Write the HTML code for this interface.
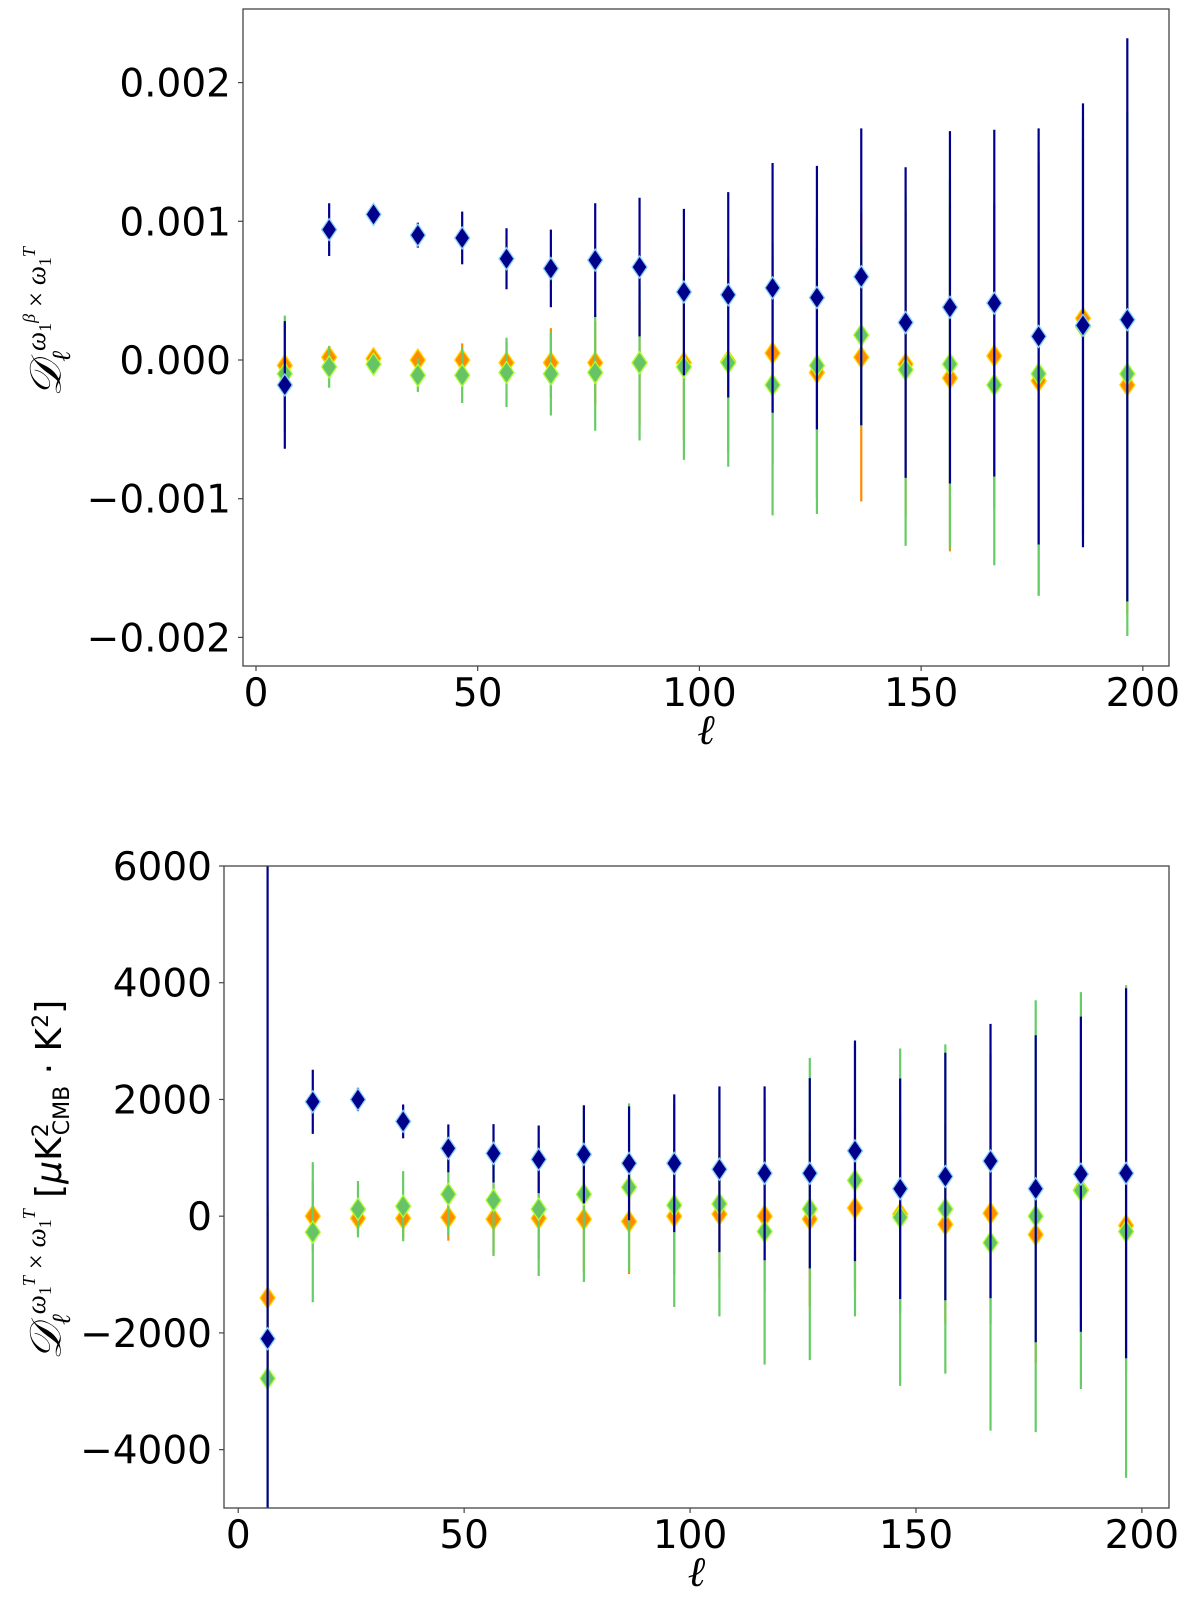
<!DOCTYPE html>
<html><head><meta charset="utf-8"><style>
html,body{margin:0;padding:0;background:#fff;width:1200px;height:1600px;overflow:hidden;position:relative;}
svg{display:block;font-family:"DejaVu Sans","Liberation Sans",sans-serif;}
</style></head><body>
<svg id="fig" width="1200" height="1600" viewBox="0 0 1200 1600" xmlns="http://www.w3.org/2000/svg" style="position:absolute;left:0;top:0;"></svg>
<script>
const ells = [6.5,16.5,26.5,36.5,46.5,56.5,66.5,76.5,86.5,96.5,106.5,116.5,126.5,136.5,146.5,156.5,166.5,176.5,186.5,196.5];
// Top panel (units of 1e-3)
const topBlue    = [-0.18,0.94,1.05,0.90,0.88,0.73,0.66,0.72,0.67,0.49,0.47,0.52,0.45,0.60,0.27,0.38,0.41,0.17,0.25,0.29];
const topBlueErr = [0.46,0.19,0.05,0.09,0.19,0.22,0.28,0.41,0.50,0.60,0.74,0.90,0.95,1.07,1.12,1.27,1.25,1.50,1.60,2.03];
const topGreen    = [-0.10,-0.05,-0.03,-0.11,-0.11,-0.09,-0.10,-0.09,-0.02,-0.05,-0.02,-0.18,-0.04,0.18,-0.07,-0.03,-0.18,-0.10,0.24,-0.10];
const topGreenErr = [0.42,0.15,0.03,0.12,0.20,0.25,0.30,0.42,0.56,0.67,0.75,0.94,1.07,0.66,1.27,1.33,1.30,1.60,1.50,1.89];
const topOrange    = [-0.04,0.02,0.01,0.0,0.0,-0.02,-0.02,-0.02,-0.02,-0.02,-0.01,0.05,-0.09,0.02,-0.03,-0.13,0.03,-0.15,0.30,-0.18];
const topOrangeErr = [0.30,0.08,0.02,0.05,0.12,0.15,0.25,0.30,0.45,0.55,0.65,0.80,0.90,1.04,1.10,1.25,1.10,1.55,1.30,1.65];
const topYTicks = [-2,-1,0,1,2];
const topYLabels = ["\u22120.002","\u22120.001","0.000","0.001","0.002"];
// Bottom panel
const botBlue    = [-2100,1960,2000,1624,1162,1077,974,1060,906,906,805,735,735,1120,470,680,945,470,720,735];
const botBlueErr = [9000,550,200,290,410,500,580,840,975,1180,1420,1490,1630,1890,1890,2120,2350,2630,2700,3170];
const botGreen    = [-2780,-274,120,171,376,274,120,376,496,188,210,-263,123,613,-18,123,-455,0,440,-263];
const botGreenErr = [3000,1200,483,600,720,957,1145,1504,1436,1744,1926,2280,2590,2330,2890,2820,3220,3700,3400,4220];
const botOrange    = [-1400,0,-35,-35,-20,-50,-35,-50,-90,0,35,0,-50,140,35,-140,50,-315,455,-160];
const botOrangeErr = [1500,600,250,350,400,600,700,900,900,1000,1100,1300,1500,1400,1700,1700,1900,2200,2000,2500];
const botYTicks = [-4000,-2000,0,2000,4000,6000];
const botYLabels = ["\u22124000","\u22122000","0","2000","4000","6000"];
const xTicks = [0,50,100,150,200];
const xLabels = ["0","50","100","150","200"];

const NS="http://www.w3.org/2000/svg";
const svg=document.getElementById('fig');
function mk(tag,attrs,parent){const e=document.createElementNS(NS,tag);for(const k in attrs)e.setAttribute(k,attrs[k]);(parent||svg).appendChild(e);return e;}

function panel(cfg){
  const g=mk('g',{});
  
  
  const X=v=>cfg.x0+(v-cfg.xmin)/(cfg.xmax-cfg.xmin)*(cfg.x1-cfg.x0);
  const Y=v=>cfg.y1-(v-cfg.ymin)/(cfg.ymax-cfg.ymin)*(cfg.y1-cfg.y0);
  const clip='clip-'+cfg.name;
  const cp=mk('clipPath',{id:clip},g);
  mk('rect',{x:cfg.x0,y:cfg.y0,width:cfg.x1-cfg.x0,height:cfg.y1-cfg.y0},cp);
  const plot=mk('g',{'clip-path':'url(#'+clip+')'},g);
  const series=[
    {v:cfg.orange,e:cfg.orangeErr,line:'#ff8c00',fill:'#ff8c00',edge:'#ffd700',n:'orange'},
    {v:cfg.green,e:cfg.greenErr,line:'#66cc66',fill:'#66c466',edge:'#adff2f',n:'green'},
    {v:cfg.blue,e:cfg.blueErr,line:'#00008b',fill:'#00008b',edge:'#87cefa',n:'blue'}];
  series.forEach(s=>{
    const sg=mk('g',{},plot);
    
    
    ells.forEach((l,i)=>{
      const x=X(l);
      const eb=mk('line',{x1:x,x2:x,y1:Y(s.v[i]-s.e[i]),y2:Y(s.v[i]+s.e[i]),stroke:s.line,'stroke-width':2.2},sg);
      
      
    });
    ells.forEach((l,i)=>{
      const x=X(l),y=Y(s.v[i]);
      const d=mk('polygon',{points:`${x},${y-11} ${x+7.5},${y} ${x},${y+11} ${x-7.5},${y}`,fill:s.fill,stroke:s.edge,'stroke-width':1.3},sg);
      
      
    });
  });
  const fr=mk('rect',{x:cfg.x0,y:cfg.y0,width:cfg.x1-cfg.x0,height:cfg.y1-cfg.y0,fill:'none',stroke:'#444','stroke-width':1.3},g);
  
  
  cfg.yt.forEach((t,i)=>{
    const y=Y(t);
    mk('line',{x1:cfg.x0-5,x2:cfg.x0,y1:y,y2:y,stroke:'#444','stroke-width':1.2},g);
    const tx=mk('text',{x:cfg.x0-12,y:y+14,'text-anchor':'end','font-size':39,fill:'#000'},g);
    tx.textContent=cfg.yl[i];
    
    
  });
  xTicks.forEach((t,i)=>{
    const x=X(t);
    mk('line',{x1:x,x2:x,y1:cfg.y1,y2:cfg.y1+5,stroke:'#444','stroke-width':1.2},g);
    const tx=mk('text',{x:x,y:cfg.y1+40,'text-anchor':'middle','font-size':39,fill:'#000'},g);
    tx.textContent=xLabels[i];
    
    
  });
  const xl=mk('text',{x:(cfg.x0+cfg.x1)/2,y:cfg.y1+78,'text-anchor':'middle','font-size':42,'font-style':'italic','font-family':'Liberation Serif, serif'},g);
  xl.textContent='\u2113';
  
  
}

panel({name:'top-panel',x0:243,x1:1169,y0:9,y1:666,xmin:-2.93,xmax:205.9,ymin:(360-666)/138.7,ymax:(360-9)/138.7,
  blue:topBlue,blueErr:topBlueErr,green:topGreen,greenErr:topGreenErr,orange:topOrange,orangeErr:topOrangeErr,yt:topYTicks,yl:topYLabels});
panel({name:'bottom-panel',x0:224,x1:1169,y0:866,y1:1508,xmin:-3.15,xmax:206.0,ymin:-5000,ymax:6000,
  blue:botBlue,blueErr:botBlueErr,green:botGreen,greenErr:botGreenErr,orange:botOrange,orangeErr:botOrangeErr,yt:botYTicks,yl:botYLabels});
</script>
<div style="position:absolute;left:0;top:0;width:1200px;height:1600px;pointer-events:none;overflow:hidden;">
  <div style="position:absolute;left:48px;top:322px;transform:translate(-50%,-50%) rotate(-90deg);white-space:nowrap;font-family:'Liberation Serif',serif;font-size:44px;">
    <i>𝒟</i><sub style="font-size:26px;"><i>ℓ</i></sub><sup style="font-size:27px;"><i>ω</i><sub style="font-size:18px">1</sub><sup style="font-size:18px"><i>β</i></sup> × <i>ω</i><sub style="font-size:18px">1</sub><sup style="font-size:18px"><i>T</i></sup></sup>
  </div>
  <div style="position:absolute;left:48px;top:1180px;transform:translate(-50%,-50%) rotate(-90deg);white-space:nowrap;font-family:'Liberation Serif',serif;font-size:44px;">
    <i>𝒟</i><sub style="font-size:26px;"><i>ℓ</i></sub><sup style="font-size:27px;"><i>ω</i><sub style="font-size:18px">1</sub><sup style="font-size:18px"><i>T</i></sup> × <i>ω</i><sub style="font-size:18px">1</sub><sup style="font-size:18px"><i>T</i></sup></sup><span style="font-family:'DejaVu Sans',sans-serif;font-size:36px;"> [<i>μ</i>K<sup style="font-size:22px">2</sup><sub style="font-size:22px;margin-left:-12px">CMB</sub> · K<sup style="font-size:22px">2</sup>]</span>
  </div>
</div>
</body></html>
